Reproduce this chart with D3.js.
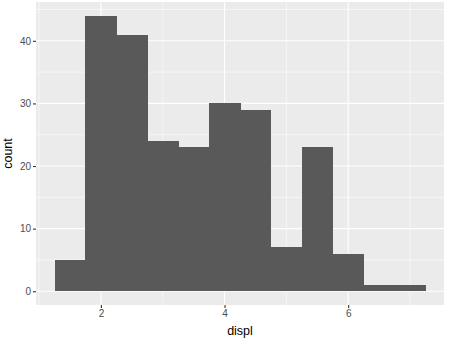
<!DOCTYPE html>
<html>
<head>
<meta charset="utf-8">
<script src="https://cdn.jsdelivr.net/npm/d3@7"></script>
<style>
  body { margin: 0; background: #fff; }
  text { font-family: "Liberation Sans", Arial, sans-serif; }
</style>
</head>
<body>
<div class="chart"></div>
<script>
// histogram of displ, binwidth 0.5
var binCenters = [1.5, 2, 2.5, 3, 3.5, 4, 4.5, 5, 5.5, 6, 6.5, 7];
var counts = [5, 44, 41, 24, 23, 30, 29, 7, 23, 6, 1, 1];
var binWidth = 0.5;
var xTicks = [2, 4, 6];
var xMinor = [1, 3, 5, 7];
var yTicks = [0, 10, 20, 30, 40];
var yMinor = [5, 15, 25, 35, 45];

var width = 450, height = 346;
var panel = {left: 36, right: 444, top: 2, bottom: 305};

var svg = d3.select(".chart")
            .append("svg")
            .attr("width", width)
            .attr("height", height);

// ggplot style 5% expansion
var xlo = binCenters[0] - binWidth / 2,
    xhi = binCenters[binCenters.length - 1] + binWidth / 2;
var xpad = (xhi - xlo) * 0.05;
var x = d3.scaleLinear()
          .domain([xlo - xpad, xhi + xpad])
          .range([panel.left, panel.right]);

var ymax = d3.max(counts);
var y = d3.scaleLinear()
          .domain([-ymax * 0.05, ymax * 1.05])
          .range([panel.bottom, panel.top]);

// panel background
svg.append("rect")
   .attr("x", panel.left)
   .attr("y", panel.top)
   .attr("width", panel.right - panel.left)
   .attr("height", panel.bottom - panel.top)
   .attr("fill", "#EBEBEB");

var grid = svg.append("g").attr("class", "grid");

grid.selectAll("line.ymin")
    .data(yMinor).enter().append("line")
    .attr("x1", panel.left).attr("x2", panel.right)
    .attr("y1", function(d){ return y(d); })
    .attr("y2", function(d){ return y(d); })
    .attr("stroke", "white").attr("stroke-width", 0.55);

grid.selectAll("line.xmin")
    .data(xMinor).enter().append("line")
    .attr("y1", panel.top).attr("y2", panel.bottom)
    .attr("x1", function(d){ return x(d); })
    .attr("x2", function(d){ return x(d); })
    .attr("stroke", "white").attr("stroke-width", 0.55);

grid.selectAll("line.ymaj")
    .data(yTicks).enter().append("line")
    .attr("x1", panel.left).attr("x2", panel.right)
    .attr("y1", function(d){ return y(d); })
    .attr("y2", function(d){ return y(d); })
    .attr("stroke", "white").attr("stroke-width", 1.1);

grid.selectAll("line.xmaj")
    .data(xTicks).enter().append("line")
    .attr("y1", panel.top).attr("y2", panel.bottom)
    .attr("x1", function(d){ return x(d); })
    .attr("x2", function(d){ return x(d); })
    .attr("stroke", "white").attr("stroke-width", 1.1);

// bars
svg.append("g")
   .attr("shape-rendering", "crispEdges")
   .selectAll("rect")
   .data(binCenters)
   .enter().append("rect")
   .attr("x", function(d){ return x(d - binWidth / 2); })
   .attr("width", function(d){ return x(d + binWidth / 2) - x(d - binWidth / 2) + 0.5; })
   .attr("y", function(d, i){ return y(counts[i]); })
   .attr("height", function(d, i){ return y(0) - y(counts[i]); })
   .attr("fill", "#595959");

// axes
var xAxis = d3.axisBottom(x).tickValues(xTicks).tickFormat(d3.format("d")).tickSize(3).tickPadding(2);
var yAxis = d3.axisLeft(y).tickValues(yTicks).tickFormat(d3.format("d")).tickSize(3).tickPadding(2);

var gx = svg.append("g")
            .attr("transform", "translate(0," + panel.bottom + ")")
            .call(xAxis);
var gy = svg.append("g")
            .attr("transform", "translate(" + panel.left + ",0)")
            .call(yAxis);

[gx, gy].forEach(function(g){
  g.select(".domain").remove();
  g.selectAll(".tick line").attr("stroke", "#333333").attr("stroke-width", 1.1);
  g.selectAll(".tick text")
   .attr("fill", "#4D4D4D")
   .attr("font-size", 10)
   .attr("font-family", "Liberation Sans, Arial, sans-serif");
});

// axis titles
svg.append("text")
   .attr("x", (panel.left + panel.right) / 2)
   .attr("y", 335)
   .attr("text-anchor", "middle")
   .attr("font-size", 12.5)
   .attr("fill", "black")
   .text("displ");

svg.append("text")
   .attr("transform", "translate(12," + ((panel.top + panel.bottom) / 2) + ") rotate(-90)")
   .attr("text-anchor", "middle")
   .attr("font-size", 12.5)
   .attr("fill", "black")
   .text("count");
</script>
</body>
</html>
